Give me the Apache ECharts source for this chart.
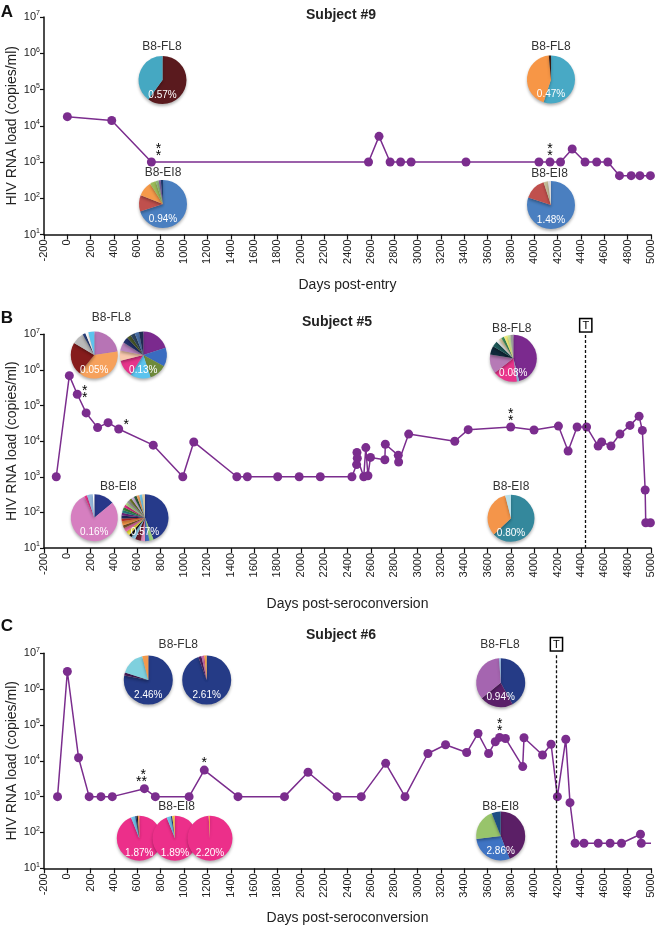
<!DOCTYPE html>
<html><head><meta charset="utf-8">
<script src="https://cdn.jsdelivr.net/npm/echarts@6/dist/echarts.min.js"></script>
<style>html,body{margin:0;padding:0;background:#fff}#c{width:660px;height:925px}</style>
</head><body><div id="c"></div>
<script>
// ---------- DATA ----------
const xMin = -200, xMax = 5000, xStep = 200;
const yMin = 10, yMax = 1e7;
const panelTitles = ['Subject #9', 'Subject #5', 'Subject #6'];
const panelLetters = ['A', 'B', 'C'];
const xNames = ['Days post-entry', 'Days post-seroconversion', 'Days post-seroconversion'];
const yName = 'HIV RNA load (copies/ml)';

const daysA = [0, 380, 720, 2580, 2670, 2765, 2855, 2945, 3415, 4040, 4135, 4225, 4325, 4435, 4535, 4630, 4730, 4830, 4905, 4995];
const loadA = [17800, 14000, 1000, 1000, 5100, 1000, 1000, 1000, 1000, 1000, 1000, 1000, 2280, 1000, 1000, 1000, 420, 420, 420, 420];
const starsA = {2: '*\n*', 10: '*\n*'};

const daysB = [-95, 17, 85, 161, 259, 349, 440, 736, 989, 1083, 1452, 1542, 1802, 1986, 2167, 2438, 2478, 2481, 2484, 2539, 2557, 2575, 2597, 2720, 2724, 2835, 2838, 2924, 3319, 3434, 3798, 3998, 4207, 4290, 4367, 4448, 4547, 4577, 4657, 4734, 4820, 4898, 4926, 4950, 4955, 4995];
const loadB = [1000, 690000, 207000, 62000, 24000, 33000, 22000, 7700, 1000, 9500, 1000, 1000, 1000, 1000, 1000, 1000, 2200, 4800, 3300, 1000, 6600, 1070, 3500, 3000, 8200, 4000, 2600, 15800, 9900, 21000, 25000, 20500, 26500, 5300, 25000, 25000, 7300, 9500, 7300, 15800, 27700, 50000, 20000, 425, 51, 51];
const starsB = {2: '*\n*', 6: '*', 30: '*\n*'};
const treatB = 4441;

const daysC = [-84, 0, 96, 187, 288, 385, 660, 754, 1043, 1173, 1462, 1860, 2062, 2311, 2518, 2727, 2893, 3089, 3240, 3421, 3518, 3609, 3666, 3703, 3753, 3901, 3912, 4071, 4144, 4198, 4270, 4306, 4350, 4426, 4548, 4650, 4747, 4910, 4917, 5000];
const loadC = [1000, 3100000, 12200, 1000, 1000, 1000, 1670, 1000, 1000, 5500, 1000, 1000, 4800, 1000, 1000, 8500, 1000, 16000, 28000, 17000, 58000, 16000, 34000, 45000, 42000, 6900, 44000, 14500, 29000, 1000, 40000, 680, 50, 50, 50, 50, 50, 89, 50, 50];
const starsC = {6: ' *\n**', 9: '*', 23: '*\n*'};
const treatC = 4190;
const lastNoMarkerC = true;

// pie slice values (clockwise from 12 o'clock)
const pieA_FL8_1 = [60, 40];
const pieA_EI8_1 = [70, 11, 10, 4, 2, 1.5, 1.5];
const pieA_FL8_2 = [55, 43.5, 1.5];
const pieA_EI8_2 = [80, 15, 3, 2];
const pieB_FL8_1 = [22, 37, 22, 8, 2, 2, 4];
const pieB_FL8_2 = [20, 13, 12, 14, 12, 7, 6, 4, 3, 3, 3, 3];
const pieB_EI8_1 = [14, 79, 2, 4, 1];
const pieB_EI8_2 = [45, 3, 3, 3, 4, 3, 2, 3, 3, 2, 3, 2, 2, 2, 2, 2, 2, 2, 2, 2, 2, 2, 2, 2, 2];
const pieB_FL8_3 = [46, 1.5, 17, 13, 6, 4, 2, 2, 2, 2.5, 2, 2];
const pieB_EI8_3 = [63, 33, 4];
const pieC_FL8_1 = [78, 2, 16, 4];
const pieC_FL8_2 = [94.5, 2, 1, 1, 1.5];
const pieC_EI8_1 = [94, 3, 1, 1, 1];
const pieC_EI8_2 = [94, 3, 1, 1.5, 0.5];
const pieC_EI8_3 = [99, 1];
const pieC_FL8_3 = [42, 22, 35, 1];
const pieC_EI8_3b = [44, 29, 21, 6];
const pieLabelsText = ['B8-FL8', 'B8-EI8'];
const piePercents = {
  A1: '0.57%', A2: '0.94%', A3: '0.47%', A4: '1.48%',
  B1: '0.05%', B2: '0.13%', B3: '0.16%', B4: '0.57%', B5: '0.08%', B6: '0.80%',
  C1: '2.46%', C2: '2.61%', C3: '1.87%', C4: '1.89%', C5: '2.20%', C6: '0.94%', C7: '2.86%'
};

// ---------- STYLE / LAYOUT ----------
const FONT = 'Liberation Sans, Arial, Helvetica, sans-serif';
const LINE = '#7b2d8e';
const C = {
  A1: ['#5a1a1e', '#45a8c2'],
  A2: ['#4a7fc0', '#c0504d', '#f59a4a', '#9bbb59', '#8fb87a', '#7d5fa0', '#1f3a6e'],
  A3: ['#48a9c5', '#f79646', '#3a1a10'],
  A4: ['#4a7fc0', '#c0504d', '#c4bd97', '#d9d9d9'],
  B1: ['#b774b5', '#f6a15c', '#861c1c', '#b9b9b9', '#2a3f7a', '#ffffff', '#5cc3ee'],
  B2: ['#7b2a8e', '#3a6cc0', '#6e8a3c', '#5bc3ee', '#e5338b', '#f8c9ae', '#b985c0', '#22306b', '#4b5a2a', '#2d4460', '#4a6fa5', '#1f2c52'],
  B3: ['#28378a', '#d67fc0', '#e8348a', '#95b8dd', '#ffffff'],
  B4: ['#263a8a', '#9bd07a', '#3e6fc0', '#e48fbf', '#6b1b2b', '#8ecae6', '#111111', '#f5e642', '#f06eaa', '#8b5a2b', '#f79646', '#d9342b', '#22306b', '#7b2a8e', '#2b8c8c', '#3c8d3c', '#e8348a', '#b5e08a', '#999999', '#6e7a2a', '#c6b3de', '#2e5b3a', '#f0a060', '#6fc3e8', '#d8c8a0'],
  B5: ['#7b2a8e', '#8ab8e0', '#e8348a', '#b67ab6', '#10283a', '#1f5a5a', '#f2f2f2', '#d8c8a0', '#3c8d5a', '#f2ee7a', '#c7e59a', '#999999'],
  B6: ['#34889c', '#f4954a', '#b9e0ea'],
  C1: ['#253b86', '#4f1f60', '#7fd0de', '#f39a4c'],
  C2: ['#253b86', '#4f1f60', '#c26fb8', '#e05a8e', '#f0a040'],
  C3: ['#ec2f8a', '#6fc3e8', '#253b86', '#222222', '#f39a4c'],
  C4: ['#ec2f8a', '#6fc3e8', '#253b86', '#f5c342', '#f39a4c'],
  C5: ['#ec2f8a', '#f39a4c'],
  C6: ['#253b86', '#5a1f68', '#a565b0', '#8fb8e0'],
  C7: ['#5b1f66', '#3f74c4', '#98c46b', '#1d4e82']
};
const grids = [
  {left: 44, right: 9, top: 17, height: 217.5, outerBoundsMode: 'none', containLabel: false},
  {left: 44, right: 9, top: 334.3, height: 213.7, outerBoundsMode: 'none', containLabel: false},
  {left: 44, right: 9, top: 653.3, height: 215, outerBoundsMode: 'none', containLabel: false}
];
const xNameGaps = [44, 49, 43];
// star label placement per panel: index -> [position, offset]
const starPlaceA = {2: ['top', [7, 3]], 10: ['top', [0, 3]]};
const starPlaceB = {2: ['right', [2, 0]], 6: ['right', [2, -4]], 30: ['top', [0, 3]]};
const starPlaceC = {6: ['top', [-3, 2]], 9: ['top', [0, 2]], 23: ['top', [0, 3]]};
// pie layout: [key, values, center x, center y, radius]
const pies = [
  ['A1', pieA_FL8_1, 162.5, 80, 24], ['A2', pieA_EI8_1, 163, 204, 24],
  ['A3', pieA_FL8_2, 551, 79.5, 24], ['A4', pieA_EI8_2, 551, 205, 24],
  ['B1', pieB_FL8_1, 94.3, 355, 23.5], ['B2', pieB_FL8_2, 143.3, 355, 23.5],
  ['B3', pieB_EI8_1, 94.3, 517.7, 23.5], ['B4', pieB_EI8_2, 145, 517.7, 23.5],
  ['B5', pieB_FL8_3, 513.3, 358.3, 23.5], ['B6', pieB_EI8_3, 511, 518.3, 23.5],
  ['C1', pieC_FL8_1, 148.3, 680, 24.5], ['C2', pieC_FL8_2, 206.7, 680, 24.5],
  ['C3', pieC_EI8_1, 139.3, 838.3, 22.5], ['C4', pieC_EI8_2, 175, 838.3, 22.5], ['C5', pieC_EI8_3, 210, 838.3, 22.5],
  ['C6', pieC_FL8_3, 500.7, 682.7, 24.5], ['C7', pieC_EI8_3b, 500.7, 836, 24.5]
];
// pie group labels: [text index, x, y]
const pieLabelPos = [
  [0, 162, 47], [1, 163, 172.3], [0, 551, 47], [1, 549.5, 173.3],
  [0, 111.5, 318], [1, 118.3, 486.7], [0, 511.8, 328.3], [1, 511, 486.7],
  [0, 178.3, 645], [1, 176.7, 806.7], [0, 500, 645], [1, 500.7, 806.7]
];
const titlePos = [[341, 15], [337, 322], [341, 635]];
const letterPos = [[7, 12], [7, 318], [7, 626]];

// ---------- BUILD ----------
const chart = echarts.init(document.getElementById('c'), null, {renderer: 'canvas'});

function starLabel(text, place) {
  return {show: true, formatter: text, position: place[0], offset: place[1], distance: 1, color: '#000',
    fontFamily: FONT, fontSize: 14, lineHeight: 7, fontWeight: 'normal', align: 'center'};
}
function buildData(days, load, stars, places, noMarkerLast) {
  return days.map((d, i) => {
    const item = {value: [d, load[i]]};
    if (stars[i]) item.label = starLabel(stars[i], places[i]);
    if (noMarkerLast && i === days.length - 1) item.symbol = 'none';
    return item;
  });
}
const dataA = buildData(daysA, loadA, starsA, starPlaceA);
const dataB = buildData(daysB, loadB, starsB, starPlaceB);
const dataC = buildData(daysC, loadC, starsC, starPlaceC, lastNoMarkerC);

const xAxes = grids.map((g, i) => ({
  type: 'value', gridIndex: i, min: xMin, max: xMax, interval: xStep,
  name: xNames[i], nameLocation: 'middle', nameGap: xNameGaps[i],
  nameTextStyle: {fontFamily: FONT, fontSize: 14, color: '#222'},
  axisLine: {show: true, onZero: false, lineStyle: {color: '#111', width: 1.5}},
  axisTick: {show: true, inside: false, length: 5, lineStyle: {color: '#111', width: 1.2}},
  axisLabel: {rotate: 90, interval: 0, hideOverlap: false, margin: 5, fontFamily: FONT, fontSize: 11, color: '#222',
    formatter: v => String(v)},
  splitLine: {show: false}
}));
const yAxes = grids.map((g, i) => ({
  type: 'log', logBase: 10, gridIndex: i, min: yMin, max: yMax,
  name: yName, nameLocation: 'middle', nameGap: 25, nameMoveOverlap: false,
  nameTextStyle: {fontFamily: FONT, fontSize: 14, color: '#222'},
  axisLine: {show: true, onZero: false, lineStyle: {color: '#111', width: 1.5}},
  axisTick: {show: true, inside: false, length: 4, lineStyle: {color: '#111', width: 1.2}},
  minorTick: {show: false},
  axisLabel: {
    margin: 4,
    formatter: v => '{b|10}{s|' + Math.round(Math.log10(v)) + '}',
    rich: {
      b: {fontFamily: FONT, fontSize: 11, color: '#222', lineHeight: 14},
      s: {fontFamily: FONT, fontSize: 7, color: '#222', verticalAlign: 'top', lineHeight: 14, padding: [0, 0, 6, 0]}
    }
  },
  splitLine: {show: false}
}));

function lineSeries(idx, data, treat) {
  const s = {
    type: 'line', xAxisIndex: idx, yAxisIndex: idx, data: data,
    symbol: 'circle', symbolSize: 9, showSymbol: true,
    itemStyle: {color: LINE}, lineStyle: {color: LINE, width: 1.5},
    z: 3, silent: true, animation: false
  };
  if (treat != null) {
    s.markLine = {
      silent: true, symbol: ['none', 'none'], animation: false,
      lineStyle: {color: '#111', type: [3, 2], width: 1.3},
      label: {show: true, position: 'end', formatter: 'T', distance: 3, color: '#000',
        fontFamily: FONT, fontSize: 11, borderColor: '#000', borderWidth: 1.5,
        padding: [1, 2, 0, 2], backgroundColor: '#fff'},
      data: [{xAxis: treat}]
    };
  }
  return s;
}

const series = [lineSeries(0, dataA, null), lineSeries(1, dataB, treatB), lineSeries(2, dataC, treatC)];
pies.forEach(p => {
  const [key, vals, cx, cy, r] = p;
  series.push({
    type: 'pie', center: [cx, cy], radius: r, startAngle: 90, clockwise: true,
    silent: true, animation: false, z: 5,
    label: {show: false}, labelLine: {show: false},
    itemStyle: {borderWidth: 0, shadowBlur: 3, shadowOffsetY: 2, shadowColor: 'rgba(0,0,0,0.3)'},
    data: vals.map((v, i) => ({value: v, itemStyle: {color: C[key][i]}}))
  });
});

const graphics = [];
panelTitles.forEach((t, i) => graphics.push({type: 'text', x: titlePos[i][0], y: titlePos[i][1],
  style: {text: t, font: 'bold 14px ' + FONT, fill: '#222', align: 'center', verticalAlign: 'middle'}}));
panelLetters.forEach((t, i) => graphics.push({type: 'text', x: letterPos[i][0], y: letterPos[i][1],
  style: {text: t, font: 'bold 17px ' + FONT, fill: '#111', align: 'center', verticalAlign: 'middle'}}));
pieLabelPos.forEach(p => graphics.push({type: 'text', x: p[1], y: p[2], z: 10,
  style: {text: pieLabelsText[p[0]], font: '12px ' + FONT, fill: '#333', align: 'center', verticalAlign: 'middle'}}));
pies.forEach(p => graphics.push({type: 'text', x: p[2], y: p[3] + 15, z: 10,
  style: {text: piePercents[p[0]], font: '10px ' + FONT, fill: '#fff', align: 'center', verticalAlign: 'middle'}}));

chart.setOption({
  animation: false,
  backgroundColor: '#fff',
  grid: grids,
  xAxis: xAxes,
  yAxis: yAxes,
  series: series,
  graphic: graphics
});
</script></body></html>
